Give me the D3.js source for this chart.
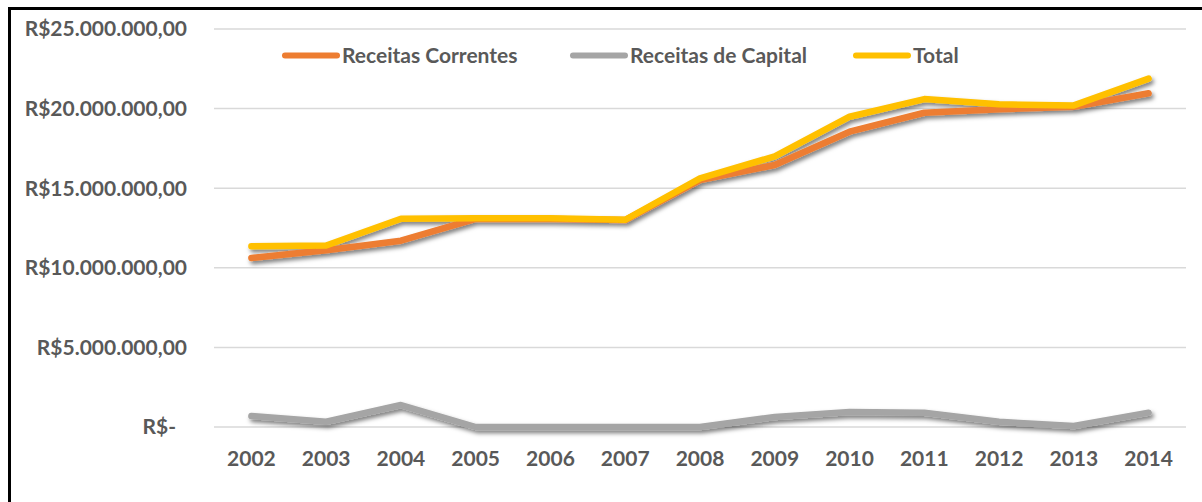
<!DOCTYPE html>
<html><head><meta charset="utf-8">
<script src="https://cdn.jsdelivr.net/npm/d3@7"></script>
<style>
html,body{margin:0;padding:0;background:#fff;}
svg{display:block;font-family:Lato,"Noto Sans",sans-serif;}
</style></head>
<body><svg id="chart" width="1202" height="502"></svg>
<script>
const years = ["2002","2003","2004","2005","2006","2007","2008","2009","2010","2011","2012","2013","2014"];
const receitasCorrentes = [10620000, 11100000, 11700000, 13070000, 13070000, 13000000, 15510000, 16460000, 18550000, 19740000, 19960000, 20120000, 20960000];
const receitasCapital = [690000, 330000, 1380000, 0, 0, 0, 0, 630000, 940000, 900000, 330000, 60000, 900000];
const total = [11350000, 11400000, 13080000, 13120000, 13120000, 13020000, 15620000, 17000000, 19490000, 20600000, 20270000, 20200000, 21880000];
const yTicks = [0, 5000000, 10000000, 15000000, 20000000, 25000000];
const seriesNames = ["Receitas Correntes", "Receitas de Capital", "Total"];
const seriesColors = ["#ED7D31", "#A5A5A5", "#FFC000"];

const svg = d3.select("#chart");
const defs = svg.append("defs");
const f = defs.append("filter").attr("id","shadow").attr("x","-5%").attr("y","-20%").attr("width","110%").attr("height","140%");
f.append("feDropShadow").attr("dx",2).attr("dy",3).attr("stdDeviation",2.2).attr("flood-color","#000").attr("flood-opacity",0.5);

const x = d3.scaleBand().domain(years).range([214, 1186]);
const y = d3.scaleLinear().domain([0, 25000000]).range([427, 29]);

// border
svg.append("line").attr("x1",8).attr("x2",1202).attr("y1",8.5).attr("y2",8.5).attr("stroke","#000").attr("stroke-width",3);
svg.append("line").attr("x1",9.5).attr("x2",9.5).attr("y1",7).attr("y2",502).attr("stroke","#000").attr("stroke-width",3);

// gridlines
svg.append("g").selectAll("line").data(yTicks).join("line")
  .attr("x1",214).attr("x2",1186).attr("y1",d=>y(d)).attr("y2",d=>y(d))
  .attr("stroke","#D9D9D9").attr("stroke-width",1.5);

// y labels
const fmt = d => d === 0 ? "R$-" : "R$" + d3.format(",.2f")(d).replace(/,/g,"#").replace(/\./g,",").replace(/#/g,".");
svg.append("g").selectAll("text").data(yTicks).join("text")
  .attr("x", d => d === 0 ? 176 : 187).attr("y", d=>y(d)).attr("dy","0.35em")
  .attr("text-anchor","end").attr("font-size",21).attr("font-weight","bold").attr("fill","#595959")
  .text(fmt);

// x labels
svg.append("g").selectAll("text").data(years).join("text")
  .attr("x", d => x(d) + x.bandwidth()/2).attr("y", 466)
  .attr("text-anchor","middle").attr("font-size",21).attr("font-weight","bold").attr("fill","#595959")
  .text(d=>d);

// lines
const dataSets = [receitasCorrentes, receitasCapital, total];
const line = d3.line().x((d,i)=>x(years[i]) + x.bandwidth()/2).y(d=>y(d));
const lg = svg.append("g").attr("filter","url(#shadow)");
dataSets.forEach((ds, k) => {
  lg.append("path").datum(ds).attr("d", line).attr("fill","none")
    .attr("stroke", seriesColors[k]).attr("stroke-width",6.5)
    .attr("stroke-linejoin","round").attr("stroke-linecap","round");
});

// legend
const legendX = [282, 570, 853];
const leg = svg.append("g");
seriesNames.forEach((n,k) => {
  leg.append("line").attr("x1",legendX[k]+3).attr("x2",legendX[k]+55).attr("y1",55.5).attr("y2",55.5)
    .attr("stroke",seriesColors[k]).attr("stroke-width",6).attr("stroke-linecap","round");
  leg.append("text").attr("x",legendX[k]+60).attr("y",55.5).attr("dy","0.35em")
    .attr("font-size",21).attr("font-weight","bold").attr("fill","#595959").text(n);
});
</script></body></html>
